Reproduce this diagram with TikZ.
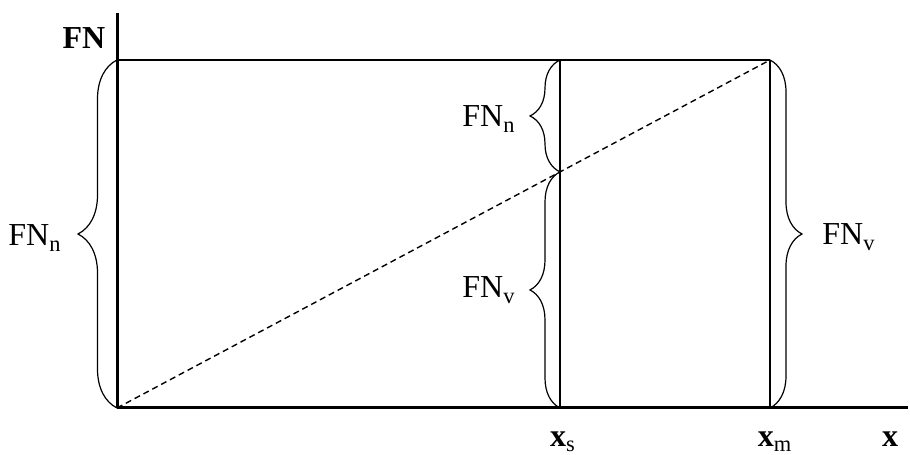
\documentclass[tikz,border=0pt]{standalone}
\usepackage{fontspec}
\setmainfont{Liberation Serif}
\usetikzlibrary{decorations.pathreplacing,calc,positioning}

\begin{document}
\begin{tikzpicture}[
    x=0.5pt, y=0.5pt,
    axis/.style={line width=1.5pt},
    edge/.style={line width=1.1pt},
    bound/.style={line width=0.9pt},
    bracket/.style={decorate, decoration={brace, amplitude=#1}, line width=0.6pt},
    lbl/.style={font=\fontsize{16}{19}\selectfont, inner sep=0pt, anchor=base west},
    tick/.style={font=\fontsize{16}{19}\selectfont, inner sep=0pt, anchor=base}
]
    \useasboundingbox (0,0) rectangle (910,455);

    % corner points
    \coordinate (O) at (117,47);
    \coordinate (ytop) at (117,442);
    \coordinate (xend) at (908,47);
    \coordinate (A) at (117,395);
    \coordinate (S) at (560,47);
    \coordinate (St) at (560,395);
    \coordinate (M) at (770,47);
    \coordinate (Mt) at (770,395);
    \coordinate (Sc) at ($(O)!0.6784!(Mt)$);

    % axes and frame
    \draw[axis] (O) -- (ytop);
    \draw[axis] (O) -- (xend);
    \draw[bound] (A) -- (Mt);
    \draw[edge] (S) -- (St);
    \draw[edge] (M) -- (Mt);
    \draw[line width=0.7pt, dash pattern=on 3pt off 2pt] (O) -- (Mt);

    % braces
    \draw[bracket=19.5pt] (O) -- (A);
    \draw[bracket=15pt] (Sc) -- (St);
    \draw[bracket=15pt] (S) -- (Sc);
    \draw[bracket=16pt] (Mt) -- (M);

    % labels
    \node[tick, font=\fontsize{16}{19}\selectfont\bfseries] (fn) at (84,406) {FN};
    \node[lbl] (fnnleft) at (8,209) {FN\textsubscript{n}};
    \node[lbl] (fnnmid) at (462,328) {FN\textsubscript{n}};
    \node[lbl] (fnvmid) at (462,157) {FN\textsubscript{v}};
    \node[lbl] (fnvright) at (822,210) {FN\textsubscript{v}};
    \node[tick] (xs) at (563,9) {\textbf{x}\textsubscript{s}};
    \node[tick] (xm) at (775,9) {\textbf{x}\textsubscript{m}};
    \node[tick, font=\fontsize{16}{19}\selectfont\bfseries] (xlab) at (890,9) {x};
\end{tikzpicture}
\end{document}
